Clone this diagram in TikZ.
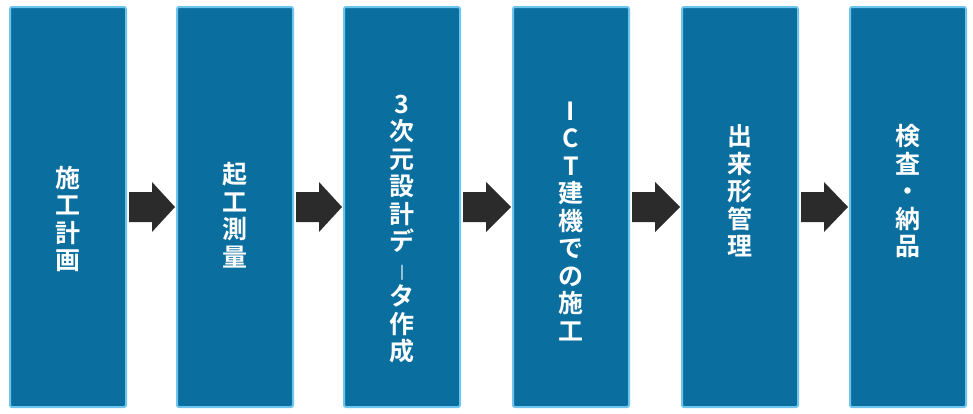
\documentclass[tikz,border=0pt]{standalone}
\usepackage{fontspec}
\newfontfamily\jp{Noto Sans CJK JP Bold}
\definecolor{boxblue}{HTML}{0A6E9E}
\definecolor{edgeblue}{HTML}{6EC6EE}
\definecolor{arrowgray}{HTML}{2B2B2B}
\tikzset{
  stepbox/.style={fill=boxblue,draw=edgeblue,line width=2pt,rounded corners=2pt,minimum width=116pt,minimum height=400pt,anchor=north west},
  steptext/.style={text=white,font=\jp\fontsize{25}{27.5}\selectfont,align=center},
  blockarrow/.style={fill=arrowgray}
}
\begin{document}
\begin{tikzpicture}[x=1pt,y=-1pt]
\useasboundingbox (0,0) rectangle (973,413);
\foreach \i/\x in {1/9,2/176,3/343,4/512,5/681,6/849}{
  \node[stepbox] (b\i) at (\x,6) {};
}
\node[steptext] (t1) at ([yshift=-12pt]b1.center) {施\\工\\計\\画};
\node[steptext] (t2) at ([yshift=-8pt]b2.center) {起\\工\\測\\量};
\node[steptext] (t3) at ([yshift=-22pt]b3.center) {3\\次\\元\\設\\計\\デ\\{\scalebox{1}[0.6]{｜}}\\タ\\作\\成};
\node[steptext] (t4) at ([yshift=-14pt]b4.center) {I\\C\\T\\建\\機\\で\\の\\施\\工};
\node[steptext] (t5) at ([yshift=16pt]b5.center) {出\\来\\形\\管\\理};
\node[steptext] (t6) at ([yshift=16pt]b6.center) {検\\査\\・\\納\\品};
\foreach \a/\b in {1/2,2/3,3/4,4/5,5/6}{
  \fill[blockarrow] ([xshift=2pt,yshift=-15pt]b\a.east) -- ([xshift=25pt,yshift=-15pt]b\a.east)
    -- ([xshift=25pt,yshift=-25pt]b\a.east) -- ([xshift=-1pt,yshift=0pt]b\b.west)
    -- ([xshift=25pt,yshift=25pt]b\a.east) -- ([xshift=25pt,yshift=15pt]b\a.east)
    -- ([xshift=2pt,yshift=15pt]b\a.east) -- cycle;
}
\end{tikzpicture}
\end{document}
